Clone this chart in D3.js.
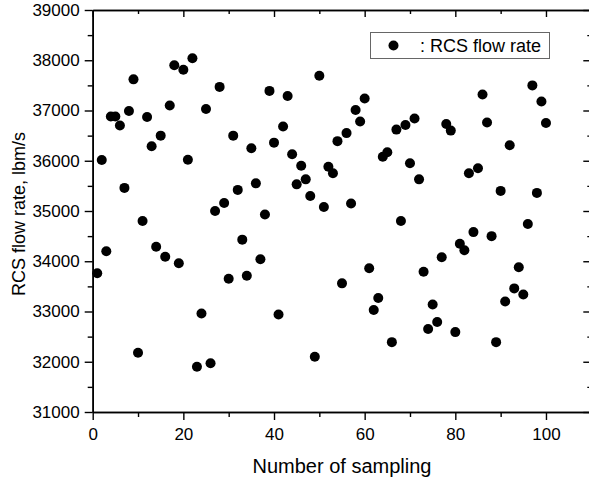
<!DOCTYPE html>
<html>
<head>
<meta charset="utf-8">
<script src="https://cdn.jsdelivr.net/npm/d3@7"></script>
<style>
  body { margin: 0; background: #fff; }
  svg { display: block; }
  text { font-family: "Liberation Sans", Arial, sans-serif; fill: #000; }
</style>
</head>
<body>
<script>
// sample number -> RCS flow rate (lbm/s)
const samples = d3.range(1, 101);
const flowRate = [
  33760, 36015, 34200, 36880, 36880, 36700, 35460, 36990, 37620, 32180,
  34800, 36870, 36290, 34290, 36500, 34090, 37100, 37900, 33960, 37810,
  36020, 38040, 31900, 32960, 37030, 31970, 35000, 37470, 35160, 33650,
  36500, 35420, 34430, 33710, 36250, 35550, 34040, 34930, 37390, 36360,
  32940, 36680, 37290, 36130, 35530, 35900, 35630, 35300, 32100, 37690,
  35080, 35880, 35750, 36390, 33560, 36550, 35150, 37010, 36780, 37240,
  33860, 33030, 33270, 36080, 36170, 32390, 36620, 34800, 36710, 35950,
  36840, 35630, 33790, 32650, 33140, 32790, 34080, 36730, 36600, 32590,
  34350, 34220, 35750, 34580, 35850, 37320, 36760, 34500, 32390, 35400,
  33200, 36310, 33460, 33880, 33340, 34740, 37500, 35360, 37180, 36750
];
const xMajor = [0, 20, 40, 60, 80, 100];
const xMinor = [10, 30, 50, 70, 90];
const yMajor = [31000, 32000, 33000, 34000, 35000, 36000, 37000, 38000, 39000];
const yMinor = [31500, 32500, 33500, 34500, 35500, 36500, 37500, 38500];

const W = 589, H = 479;
const pLeft = 92.7, pRight = 591.3, pTop = 10, pBottom = 412;

const svg = d3.select("body").append("svg")
  .attr("width", W)
  .attr("height", H);

const x = d3.scaleLinear().domain([0, 110]).range([pLeft, pRight]);
const y = d3.scaleLinear().domain([31000, 39000]).range([pBottom, pTop]);

function styleAxis(g) {
  g.select(".domain").attr("stroke", "#000").attr("stroke-width", 1.6);
  g.selectAll(".tick line").attr("stroke", "#000").attr("stroke-width", 1.4);
  g.selectAll(".tick text")
    .attr("font-family", "Liberation Sans, Arial, sans-serif")
    .attr("font-size", 17)
    .attr("fill", "#000");
}

// bottom axis
svg.append("g")
  .attr("transform", `translate(0, ${pBottom})`)
  .call(d3.axisBottom(x).tickValues(xMajor).tickSizeInner(8).tickSizeOuter(0).tickPadding(8))
  .call(styleAxis);
svg.append("g")
  .attr("transform", `translate(0, ${pBottom})`)
  .call(d3.axisBottom(x).tickValues(xMinor).tickFormat("").tickSizeInner(5).tickSizeOuter(0))
  .call(styleAxis);

// top axis (ticks inward)
svg.append("g")
  .attr("transform", `translate(0, ${pTop})`)
  .call(d3.axisTop(x).tickValues(xMajor).tickFormat("").tickSizeInner(-7).tickSizeOuter(0))
  .call(styleAxis);
svg.append("g")
  .attr("transform", `translate(0, ${pTop})`)
  .call(d3.axisTop(x).tickValues(xMinor).tickFormat("").tickSizeInner(-4).tickSizeOuter(0))
  .call(styleAxis);

// left axis
svg.append("g")
  .attr("transform", `translate(${pLeft}, 0)`)
  .call(d3.axisLeft(y).tickValues(yMajor).tickFormat(d3.format("d")).tickSizeInner(8).tickSizeOuter(0).tickPadding(5))
  .call(styleAxis);
svg.append("g")
  .attr("transform", `translate(${pLeft}, 0)`)
  .call(d3.axisLeft(y).tickValues(yMinor).tickFormat("").tickSizeInner(5).tickSizeOuter(0))
  .call(styleAxis);

// right axis (ticks inward)
svg.append("g")
  .attr("transform", `translate(${pRight}, 0)`)
  .call(d3.axisRight(y).tickValues(yMajor).tickFormat("").tickSizeInner(-8).tickSizeOuter(0))
  .call(styleAxis);
svg.append("g")
  .attr("transform", `translate(${pRight}, 0)`)
  .call(d3.axisRight(y).tickValues(yMinor).tickFormat("").tickSizeInner(-4).tickSizeOuter(0))
  .call(styleAxis);

// points
svg.append("g").selectAll("circle")
  .data(samples)
  .enter().append("circle")
  .attr("cx", (d) => x(d))
  .attr("cy", (d, i) => y(flowRate[i]))
  .attr("r", 5)
  .attr("fill", "#000");

// legend
const legend = svg.append("g");
legend.append("rect")
  .attr("x", 370.5)
  .attr("y", 32.5)
  .attr("width", 179)
  .attr("height", 26)
  .attr("fill", "#fff")
  .attr("stroke", "#666")
  .attr("stroke-width", 1);
legend.append("circle")
  .attr("cx", 393.5)
  .attr("cy", 45.5)
  .attr("r", 5)
  .attr("fill", "#000");
legend.append("text")
  .attr("x", 420)
  .attr("y", 52)
  .attr("font-size", 18)
  .text(": RCS flow rate");

// axis titles
svg.append("text")
  .attr("x", (pLeft + pRight) / 2)
  .attr("y", 473)
  .attr("font-size", 20)
  .style("text-anchor", "middle")
  .text("Number of sampling");

svg.append("text")
  .attr("transform", `translate(25, ${(pTop + pBottom) / 2 + 3}) rotate(-90)`)
  .attr("font-size", 18)
  .style("text-anchor", "middle")
  .text("RCS flow rate, lbm/s");
</script>
</body>
</html>
